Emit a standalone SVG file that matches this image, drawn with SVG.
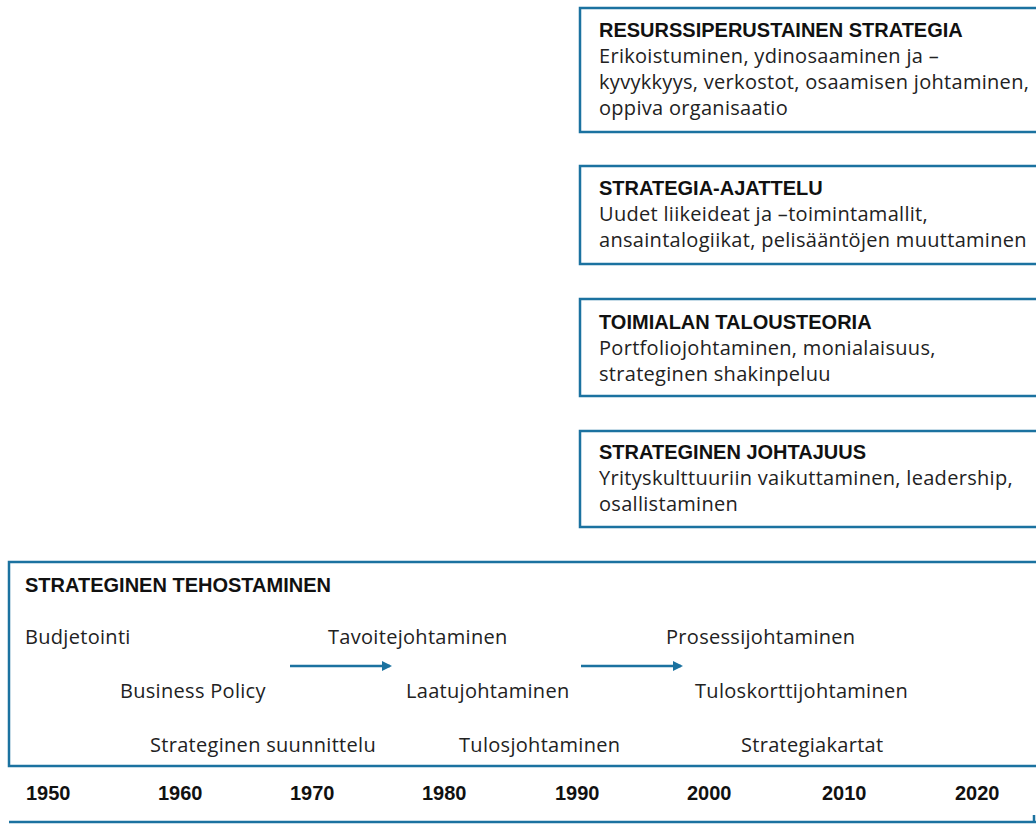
<svg xmlns="http://www.w3.org/2000/svg" width="1036" height="825" viewBox="0 0 1036 825">
<style>
.box{fill:#fff;stroke:#1b72a0;stroke-width:2.5}
.t{font-family:"Open Sans","Liberation Sans",Arial,sans-serif;font-size:20px;letter-spacing:0.3px;fill:#222}
.b{font-family:"Liberation Sans",Arial,sans-serif;font-size:20px;font-weight:bold;fill:#111}
.c{stroke:#1b72a0;stroke-width:2.5;fill:none}
</style>
<defs>
<marker id="ah" markerWidth="10" markerHeight="10" refX="8" refY="5" orient="auto" markerUnits="userSpaceOnUse" viewBox="0 0 10 10">
<path d="M0,0 L10,5 L0,10 Z" fill="#1b72a0"/>
</marker>
</defs>
<rect width="1036" height="825" fill="#fff"/>
<g id="resurssi">
<rect class="box" x="580" y="8" width="470" height="124"/>
<text class="b" x="599" y="37">RESURSSIPERUSTAINEN STRATEGIA</text>
<text class="t" x="599" y="63">Erikoistuminen, ydinosaaminen ja –</text>
<text class="t" x="599" y="89">kyvykkyys, verkostot, osaamisen johtaminen,</text>
<text class="t" x="599" y="115">oppiva organisaatio</text>
</g>
<g id="ajattelu">
<rect class="box" x="580" y="166" width="470" height="98"/>
<text class="b" x="599" y="195">STRATEGIA-AJATTELU</text>
<text class="t" x="599" y="221">Uudet liikeideat ja –toimintamallit,</text>
<text class="t" x="599" y="247">ansaintalogiikat, pelisääntöjen muuttaminen</text>
</g>
<g id="talousteoria">
<rect class="box" x="580" y="299" width="470" height="97"/>
<text class="b" x="599" y="329">TOIMIALAN TALOUSTEORIA</text>
<text class="t" x="599" y="355">Portfoliojohtaminen, monialaisuus,</text>
<text class="t" x="599" y="381">strateginen shakinpeluu</text>
</g>
<g id="johtajuus">
<rect class="box" x="580" y="431" width="470" height="96"/>
<text class="b" x="599" y="459">STRATEGINEN JOHTAJUUS</text>
<text class="t" x="599" y="485">Yrityskulttuuriin vaikuttaminen, leadership,</text>
<text class="t" x="599" y="511">osallistaminen</text>
</g>
<g id="tehostaminen">
<rect class="box" x="9" y="562" width="1050" height="204"/>
<text class="b" x="25" y="592">STRATEGINEN TEHOSTAMINEN</text>
<text class="t" x="25" y="644">Budjetointi</text>
<text class="t" x="328" y="644">Tavoitejohtaminen</text>
<text class="t" x="666" y="644">Prosessijohtaminen</text>
<text class="t" x="120" y="698">Business Policy</text>
<text class="t" x="406" y="698">Laatujohtaminen</text>
<text class="t" x="695" y="698">Tuloskorttijohtaminen</text>
<text class="t" x="150" y="752">Strateginen suunnittelu</text>
<text class="t" x="459" y="752">Tulosjohtaminen</text>
<text class="t" x="741" y="752">Strategiakartat</text>
</g>
<g id="years">
<text class="b" x="26" y="800">1950</text>
<text class="b" x="158" y="800">1960</text>
<text class="b" x="290" y="800">1970</text>
<text class="b" x="422" y="800">1980</text>
<text class="b" x="555" y="800">1990</text>
<text class="b" x="687" y="800">2000</text>
<text class="b" x="822" y="800">2010</text>
<text class="b" x="955" y="800">2020</text>
</g>
<g id="connectors">
<line class="c" x1="290" y1="666" x2="390" y2="666" marker-end="url(#ah)"/>
<line class="c" x1="581" y1="666" x2="681" y2="666" marker-end="url(#ah)"/>
<line class="c" x1="9" y1="822" x2="1036" y2="822"/>
<line class="c" x1="1034" y1="815" x2="1034" y2="822"/>
</g>
</svg>
